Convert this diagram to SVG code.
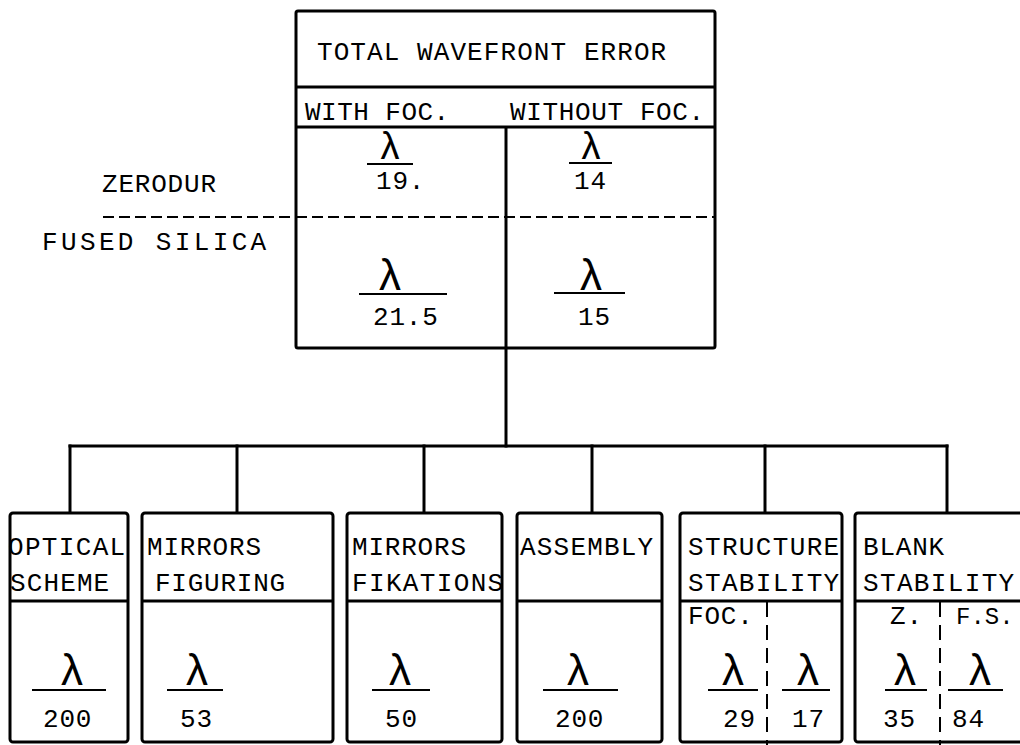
<svg xmlns="http://www.w3.org/2000/svg" width="1020" height="745" viewBox="0 0 1020 745">
  <style>
    .box { fill: #fff; stroke: #000; stroke-width: 3; }
    .rule { stroke: #000; stroke-width: 3; fill: none; }
    .bar { stroke: #000; stroke-width: 2; fill: none; }
    .dash { stroke: #000; stroke-width: 2; fill: none; stroke-dasharray: 11 5; }
    .vdash { stroke: #000; stroke-width: 2; fill: none; stroke-dasharray: 15 8; }
    .link { stroke: #000; stroke-width: 3; fill: none; stroke-linecap: square; }
    .t { font-family: "Liberation Mono", "DejaVu Sans Mono", monospace; font-size: 26px; letter-spacing: 0.8px; fill: #000; }
    .tn { font-family: "Liberation Mono", "DejaVu Sans Mono", monospace; font-size: 24px; fill: #000; }
    .lam { font-family: "Liberation Sans", "DejaVu Sans", sans-serif; font-size: 44px; fill: #000; text-anchor: middle; }
    .lams { font-family: "Liberation Sans", "DejaVu Sans", sans-serif; font-size: 38px; fill: #000; text-anchor: middle; }
  </style>

  <rect width="1020" height="745" fill="#fff"/>

  <!-- material legend on the left -->
  <g id="legend">
    <text class="t" x="102" y="192">ZERODUR</text>
    <text class="t" x="42" y="250" textLength="225" lengthAdjust="spacing">FUSED SILICA</text>
    <line class="dash" x1="103" y1="217" x2="714" y2="217"/>
  </g>

  <!-- connectors: top box down to the bus, bus drops to each contributor -->
  <g id="connectors">
    <line class="link" x1="506" y1="348" x2="506" y2="446"/>
    <line class="link" x1="70" y1="446" x2="947" y2="446"/>
    <line class="link" x1="70" y1="446" x2="70" y2="513"/>
    <line class="link" x1="237" y1="446" x2="237" y2="513"/>
    <line class="link" x1="424" y1="446" x2="424" y2="513"/>
    <line class="link" x1="592" y1="446" x2="592" y2="513"/>
    <line class="link" x1="765" y1="446" x2="765" y2="513"/>
    <line class="link" x1="947" y1="446" x2="947" y2="513"/>
  </g>

  <!-- total wavefront error -->
  <g id="total">
    <rect class="box" x="296" y="11" width="419" height="337" rx="2"/>
    <line class="rule" x1="296" y1="87" x2="715" y2="87"/>
    <line class="rule" x1="296" y1="127" x2="715" y2="127"/>
    <line class="rule" x1="506" y1="127" x2="506" y2="348"/>
    <line class="dash" x1="296" y1="217" x2="714" y2="217"/>
    <text class="t" x="317" y="60" textLength="350" lengthAdjust="spacing">TOTAL WAVEFRONT ERROR</text>
    <text class="t" x="305" y="120" textLength="145" lengthAdjust="spacing">WITH FOC.</text>
    <text class="t" x="510" y="120" textLength="195" lengthAdjust="spacing">WITHOUT FOC.</text>

    <text class="lams" x="390" y="159">λ</text>
    <line class="bar" x1="367" y1="164" x2="413" y2="164"/>
    <text class="t" x="376" y="189">19.</text>

    <text class="lams" x="591" y="159">λ</text>
    <line class="bar" x1="569" y1="163" x2="612" y2="163"/>
    <text class="t" x="574" y="189">14</text>

    <text class="lam" x="390" y="290">λ</text>
    <line class="bar" x1="359" y1="294" x2="447" y2="294"/>
    <text class="t" x="373" y="325">21.5</text>

    <text class="lam" x="591" y="290">λ</text>
    <line class="bar" x1="554" y1="293" x2="625" y2="293"/>
    <text class="t" x="578" y="325">15</text>
  </g>

  <!-- contributors -->
  <g id="optical-scheme">
    <rect class="box" x="10" y="513" width="118" height="229" rx="3"/>
    <line class="rule" x1="10" y1="601" x2="128" y2="601"/>
    <text class="t" x="8" y="555" textLength="118" lengthAdjust="spacing">OPTICAL</text>
    <text class="t" x="10" y="591" textLength="100" lengthAdjust="spacing">SCHEME</text>
    <text class="lam" x="72" y="685">λ</text>
    <line class="bar" x1="32" y1="690" x2="106" y2="690"/>
    <text class="t" x="43" y="727">200</text>
  </g>

  <g id="mirrors-figuring">
    <rect class="box" x="142" y="513" width="191" height="229" rx="3"/>
    <line class="rule" x1="142" y1="601" x2="333" y2="601"/>
    <text class="t" x="147" y="555">MIRRORS</text>
    <text class="t" x="155" y="591" textLength="131" lengthAdjust="spacing">FIGURING</text>
    <text class="lam" x="197" y="685">λ</text>
    <line class="bar" x1="167" y1="690" x2="223" y2="690"/>
    <text class="t" x="180" y="727" textLength="33" lengthAdjust="spacing">53</text>
  </g>

  <g id="mirrors-fixations">
    <rect class="box" x="347" y="513" width="155" height="229" rx="3"/>
    <line class="rule" x1="347" y1="601" x2="502" y2="601"/>
    <text class="t" x="352" y="555">MIRRORS</text>
    <text class="t" x="352" y="591" textLength="152" lengthAdjust="spacing">FIKATIONS</text>
    <text class="lam" x="400" y="685">λ</text>
    <line class="bar" x1="372" y1="690" x2="430" y2="690"/>
    <text class="t" x="385" y="727">50</text>
  </g>

  <g id="assembly">
    <rect class="box" x="517" y="513" width="145" height="229" rx="3"/>
    <line class="rule" x1="517" y1="601" x2="662" y2="601"/>
    <text class="t" x="520" y="555" textLength="134" lengthAdjust="spacing">ASSEMBLY</text>
    <text class="lam" x="578" y="685">λ</text>
    <line class="bar" x1="543" y1="690" x2="618" y2="690"/>
    <text class="t" x="555" y="727">200</text>
  </g>

  <g id="structure-stability">
    <rect class="box" x="680" y="513" width="162" height="229" rx="3"/>
    <line class="rule" x1="680" y1="601" x2="842" y2="601"/>
    <line class="vdash" x1="767" y1="602" x2="767" y2="745"/>
    <text class="t" x="688" y="555" textLength="152" lengthAdjust="spacing">STRUCTURE</text>
    <text class="t" x="688" y="591" textLength="152" lengthAdjust="spacing">STABILITY</text>
    <text class="t" x="688" y="624">FOC.</text>
    <text class="lam" x="733" y="685">λ</text>
    <line class="bar" x1="708" y1="690" x2="758" y2="690"/>
    <text class="t" x="723" y="727">29</text>
    <text class="lam" x="808" y="685">λ</text>
    <line class="bar" x1="782" y1="690" x2="830" y2="690"/>
    <text class="t" x="792" y="727">17</text>
  </g>

  <g id="blank-stability">
    <rect class="box" x="855" y="513" width="185" height="229" rx="3"/>
    <line class="rule" x1="855" y1="601" x2="1020" y2="601"/>
    <line class="vdash" x1="940" y1="602" x2="940" y2="745"/>
    <text class="t" x="863" y="555">BLANK</text>
    <text class="t" x="863" y="591" textLength="152" lengthAdjust="spacing">STABILITY</text>
    <text class="t" x="890" y="624">Z.</text>
    <text class="tn" x="956" y="624">F.S.</text>
    <text class="lam" x="905" y="685">λ</text>
    <line class="bar" x1="885" y1="690" x2="927" y2="690"/>
    <text class="t" x="883" y="727">35</text>
    <text class="lam" x="980" y="685">λ</text>
    <line class="bar" x1="948" y1="690" x2="1003" y2="690"/>
    <text class="t" x="952" y="727">84</text>
  </g>
</svg>
